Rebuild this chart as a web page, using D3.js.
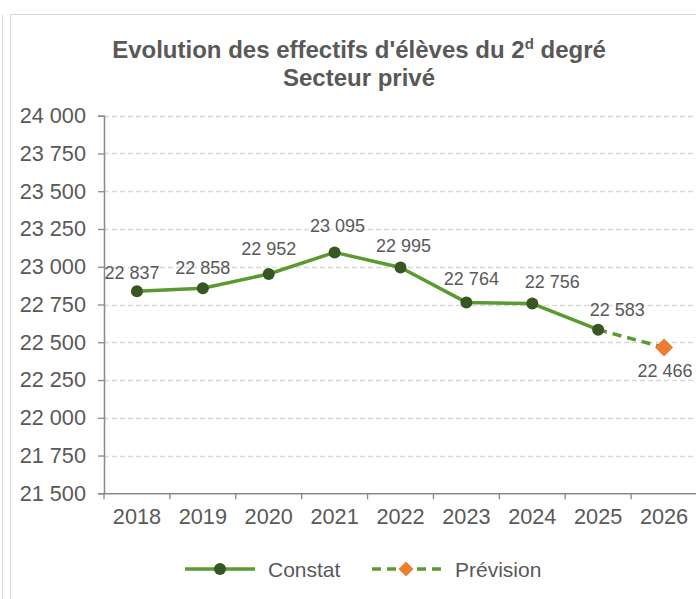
<!DOCTYPE html>
<html><head><meta charset="utf-8">
<script src="https://cdn.jsdelivr.net/npm/d3@7/dist/d3.min.js"></script>
<style>
html,body{margin:0;padding:0;background:#fff;}
svg{display:block;font-family:"Liberation Sans",Arial,sans-serif;}
</style></head>
<body>
<svg id="chart" width="696" height="599"></svg>
<script>
// ---- data ----
const years = ["2018","2019","2020","2021","2022","2023","2024","2025","2026"];
const constat = [22837, 22858, 22952, 23095, 22995, 22764, 22756, 22583, null];
const prevision = [null, null, null, null, null, null, null, 22583, 22466];
const yTicks = [21500, 21750, 22000, 22250, 22500, 22750, 23000, 23250, 23500, 23750, 24000];
const seriesNames = ["Constat", "Prévision"];

// ---- layout ----
const W = 696, H = 599;
const pLeft = 104, pRight = 697, pTop = 115.7, pBottom = 493.3;
const textColor = "#595959";
const lineGreen = "#5b9a2e";
const markerGreen = "#375623";
const orange = "#ed7d31";
const axisFont = 21.7;
const fmt = v => d3.format(",")(v).replace(/,/g, " ");

const svg = d3.select("#chart");

// frame
svg.append("line").attr("x1", 2.5).attr("x2", 2.5).attr("y1", 15).attr("y2", H)
  .attr("stroke", "#d9d9d9").attr("stroke-width", 1);
svg.append("rect").attr("x", 10.5).attr("y", 14.5).attr("width", W).attr("height", H)
  .attr("fill", "none").attr("stroke", "#d9d9d9").attr("stroke-width", 1);

const x = d3.scaleBand().domain(years).range([pLeft, pRight]).padding(0);
const y = d3.scaleLinear().domain([21500, 24000]).range([pBottom, pTop]);
const cx = d => x(d) + x.bandwidth() / 2;

// title
const title = svg.append("text").attr("text-anchor", "middle").attr("fill", textColor)
  .attr("font-weight", "bold").attr("font-size", 24);
const t1 = title.append("tspan").attr("x", 359).attr("y", 57.5);
t1.append("tspan").text("Evolution des effectifs d'élèves du 2");
t1.append("tspan").attr("font-size", 15).attr("dy", -9).text("d");
t1.append("tspan").attr("dy", 9).text(" degré");
title.append("tspan").attr("x", 359).attr("y", 86).text("Secteur privé");

// gridlines
svg.append("g").selectAll("line").data(yTicks.filter(t => t !== 21500)).join("line")
  .attr("x1", pLeft).attr("x2", pRight)
  .attr("y1", d => Math.round(y(d)) + 0.5).attr("y2", d => Math.round(y(d)) + 0.5)
  .attr("stroke", "#d9d9d9").attr("stroke-width", 1.3).attr("stroke-dasharray", "5,3");

// y axis
const yAxis = svg.append("g").attr("transform", `translate(${pLeft},0)`)
  .call(d3.axisLeft(y).tickValues(yTicks).tickFormat(fmt).tickSize(6).tickPadding(12));
yAxis.select(".domain").attr("stroke", "#898989").attr("stroke-width", 1.5);
yAxis.selectAll(".tick line").attr("stroke", "#898989").attr("stroke-width", 1.3);
yAxis.selectAll(".tick text").attr("fill", textColor).attr("font-size", axisFont)
  .attr("font-family", "Liberation Sans, Arial, sans-serif");

// x axis
const xAxis = svg.append("g").attr("transform", `translate(0,${pBottom})`)
  .call(d3.axisBottom(x).tickSize(0).tickPadding(15));
xAxis.select(".domain").attr("stroke", "#898989").attr("stroke-width", 1.5);
xAxis.selectAll(".tick text").attr("fill", textColor).attr("font-size", axisFont)
  .attr("font-family", "Liberation Sans, Arial, sans-serif");
svg.append("g").selectAll("line").data(years).join("line")
  .attr("x1", d => x(d)).attr("x2", d => x(d))
  .attr("y1", pBottom).attr("y2", pBottom + 6)
  .attr("stroke", "#898989").attr("stroke-width", 1.3);

// lines
const cData = years.map((yr, i) => ({yr, v: constat[i]})).filter(d => d.v !== null);
const pData = years.map((yr, i) => ({yr, v: prevision[i]})).filter(d => d.v !== null);
const line = d3.line().x(d => cx(d.yr)).y(d => y(d.v));

svg.append("path").datum(pData).attr("d", line).attr("fill", "none")
  .attr("stroke", lineGreen).attr("stroke-width", 3.5).attr("stroke-dasharray", "9,6");
svg.append("path").datum(cData).attr("d", line).attr("fill", "none")
  .attr("stroke", lineGreen).attr("stroke-width", 3.5).attr("stroke-linejoin", "round");

svg.append("g").selectAll("circle").data(cData).join("circle")
  .attr("cx", d => cx(d.yr)).attr("cy", d => y(d.v)).attr("r", 6)
  .attr("fill", markerGreen);

const pMark = pData.slice(1);
svg.append("g").selectAll("path").data(pMark).join("path")
  .attr("transform", d => `translate(${cx(d.yr)},${y(d.v)})`)
  .attr("d", "M0,-9L9,0L0,9L-9,0Z").attr("fill", orange);

// data labels
const labelNudge = [[-5,-12],[0,-14],[0,-19],[3,-20],[3,-15],[5,-17],[20,-16],[19,-14]];
svg.append("g").selectAll("text").data(cData).join("text")
  .attr("x", (d, i) => cx(d.yr) + labelNudge[i][0])
  .attr("y", (d, i) => y(d.v) + labelNudge[i][1])
  .attr("text-anchor", "middle").attr("fill", textColor).attr("font-size", 18)
  .text(d => fmt(d.v));
svg.append("g").selectAll("text").data(pMark).join("text")
  .attr("x", d => cx(d.yr) + 1).attr("y", d => y(d.v) + 30)
  .attr("text-anchor", "middle").attr("fill", textColor).attr("font-size", 18)
  .text(d => fmt(d.v));

// legend
const lg = svg.append("g");
const ly = 569;
lg.append("line").attr("x1", 185).attr("x2", 255).attr("y1", ly).attr("y2", ly)
  .attr("stroke", lineGreen).attr("stroke-width", 3.5);
lg.append("circle").attr("cx", 220).attr("cy", ly).attr("r", 6).attr("fill", markerGreen);
lg.append("text").attr("x", 268).attr("y", ly + 7.5).attr("fill", textColor).attr("font-size", 21)
  .text(seriesNames[0]);
lg.append("line").attr("x1", 372).attr("x2", 442).attr("y1", ly).attr("y2", ly)
  .attr("stroke", lineGreen).attr("stroke-width", 3.5).attr("stroke-dasharray", "9,6");
lg.append("path").attr("transform", `translate(406,${ly})`).attr("d", "M0,-7.5L7.5,0L0,7.5L-7.5,0Z").attr("fill", orange);
lg.append("text").attr("x", 455).attr("y", ly + 7.5).attr("fill", textColor).attr("font-size", 21)
  .text(seriesNames[1]);
</script>
</body></html>
